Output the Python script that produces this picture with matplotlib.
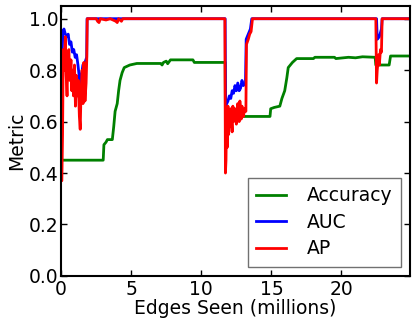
import matplotlib
matplotlib.use("Agg")
import matplotlib.pyplot as plt

# Accuracy (green)
acc_x = [0.0, 3.0, 3.05, 3.2, 3.3, 3.65, 3.75, 3.85, 4.0, 4.1, 4.2, 4.35, 4.5, 4.7, 4.9, 5.4,
         7.1, 7.2, 7.3, 7.5, 7.6, 7.8, 8.3, 9.4, 9.5, 11.7, 11.72, 14.9, 14.95, 15.2, 15.6,
         15.75, 15.95, 16.1, 16.2, 16.5, 16.8, 18.0, 18.1, 19.5, 19.6, 20.5, 21.0, 21.5,
         22.4, 22.45, 22.8, 23.4, 23.5, 24.9]
acc_y = [0.45, 0.45, 0.51, 0.52, 0.53, 0.53, 0.58, 0.64, 0.67, 0.72, 0.76, 0.79, 0.81, 0.815, 0.82, 0.826,
         0.826, 0.82, 0.83, 0.835, 0.825, 0.84, 0.84, 0.84, 0.83, 0.83, 0.62, 0.62, 0.65, 0.655, 0.66,
         0.69, 0.72, 0.77, 0.81, 0.83, 0.845, 0.845, 0.85, 0.85, 0.845, 0.85, 0.848, 0.852,
         0.85, 0.82, 0.82, 0.82, 0.855, 0.855]

# AUC (blue)
auc_x = [0.05, 0.12, 0.2, 0.3, 0.4, 0.5, 0.6, 0.7, 0.8, 0.9, 1.0, 1.1, 1.2, 1.3, 1.36, 1.45, 1.55,
         1.7, 1.82, 1.85, 11.7, 11.73, 11.9, 12.0, 12.1, 12.2, 12.3, 12.4, 12.5, 12.6, 12.7,
         12.8, 12.9, 13.0, 13.15, 13.2, 13.35, 13.5, 13.6, 22.5, 22.55, 22.7, 22.85, 22.9, 24.9]
auc_y = [0.82, 0.95, 0.96, 0.94, 0.93, 0.94, 0.90, 0.91, 0.87, 0.88, 0.85, 0.86, 0.82, 0.77, 0.73, 0.78, 0.82,
         0.83, 0.85, 1.0, 1.0, 0.66, 0.68, 0.70, 0.69, 0.72, 0.71, 0.74, 0.72, 0.75, 0.72,
         0.73, 0.76, 0.74, 0.75, 0.92, 0.94, 0.96, 1.0, 1.0, 0.92, 0.93, 0.96, 1.0, 1.0]

# AP (red)
ap_x = [0.0, 0.05, 0.1, 0.15, 0.22, 0.3, 0.36, 0.42, 0.48, 0.55, 0.62, 0.7, 0.76, 0.82, 0.88, 0.95,
        1.02, 1.08, 1.15, 1.22, 1.3, 1.36, 1.42, 1.5, 1.56, 1.62, 1.7, 1.78, 1.83, 1.86,
        2.5, 2.6, 2.7, 2.8, 3.2, 3.5, 3.9, 4.0, 4.1, 4.3, 4.4,
        11.68, 11.72, 11.76, 11.8, 11.85, 11.9, 11.95, 12.0, 12.05, 12.1, 12.2, 12.25, 12.3,
        12.4, 12.5, 12.6, 12.7, 12.75, 12.85, 12.9, 13.0, 13.1, 13.18, 13.22, 13.35, 13.45,
        13.55, 13.65, 22.45, 22.5, 22.55, 22.65, 22.7, 22.78, 22.85, 22.9, 24.9]
ap_y = [0.37, 0.37, 0.55, 0.88, 0.80, 0.93, 0.78, 0.70, 0.85, 0.88, 0.76, 0.84, 0.72, 0.80, 0.70, 0.82,
        0.66, 0.78, 0.70, 0.76, 0.62, 0.57, 0.72, 0.80, 0.67, 0.83, 0.68, 0.75, 0.85, 1.0,
        1.0, 0.99, 0.985, 1.0, 0.995, 1.0, 0.99, 0.985, 1.0, 0.99, 1.0,
        1.0, 0.40, 0.45, 0.62, 0.50, 0.66, 0.55, 0.64, 0.58, 0.65, 0.56, 0.66, 0.60,
        0.65, 0.59, 0.67, 0.60, 0.68, 0.61, 0.66, 0.62, 0.65, 0.64, 0.90, 0.92, 0.94,
        0.95, 1.0, 1.0, 0.75, 0.80, 0.86, 0.82, 0.88, 0.87, 1.0, 1.0]

plt.rcParams['font.family'] = 'DejaVu Sans'
plt.rcParams['font.size'] = 13.5

fig = plt.figure(figsize=(4.16, 3.25), dpi=100)
ax = fig.add_axes([0.147, 0.151, 0.839, 0.831])

ax.plot(acc_x, acc_y, color='green', lw=2, label='Accuracy')
ax.plot(auc_x, auc_y, color='blue', lw=2, label='AUC')
ax.plot(ap_x, ap_y, color='red', lw=2, label='AP')

ax.set_xlim(0, 24.9)
ax.set_ylim(0, 1.05)
ax.set_xticks([0, 5, 10, 15, 20])
ax.set_yticks([0.0, 0.2, 0.4, 0.6, 0.8, 1.0])
ax.set_yticklabels(['0.0', '0.2', '0.4', '0.6', '0.8', '1.0'])
ax.tick_params(direction='in', top=True, right=True, length=4, width=1)
ax.tick_params(axis='y', pad=2)
ax.tick_params(axis='x', pad=3)
for sp in ax.spines.values():
    sp.set_linewidth(1.5)
ax.set_xlabel('Edges Seen (millions)', labelpad=0)
ax.set_ylabel('Metric', labelpad=2)

leg = ax.legend(loc='lower right', fancybox=False, handlelength=1.6, handletextpad=1.1,
                borderpad=0.45, labelspacing=0.4)
leg.get_frame().set_edgecolor('0.3')
leg.get_frame().set_linewidth(1)

fig.savefig('out.png', dpi=100)
